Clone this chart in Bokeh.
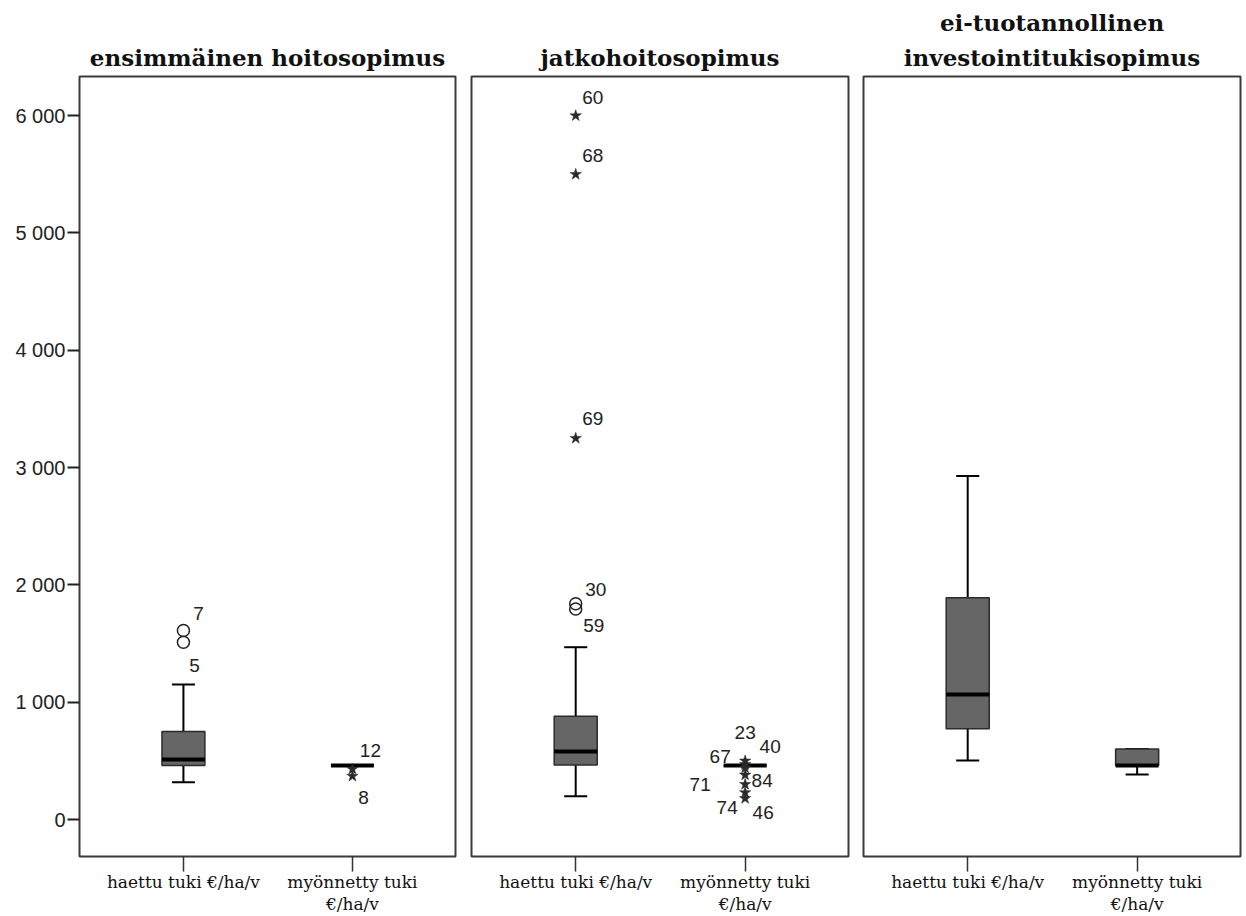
from bokeh.plotting import figure
from bokeh.layouts import row
from bokeh.models import FixedTicker, Range1d, ColumnDataSource, Title
from bokeh.embed import file_html
from bokeh.resources import INLINE
from bokeh.core.properties import value

# ---------------- data ----------------
panel_titles = [["ensimmäinen hoitosopimus"], ["jatkohoitosopimus"],
                ["ei-tuotannollinen", "investointitukisopimus"]]
categories = ["haettu tuki €/ha/v", "myönnetty tuki\n€/ha/v"]
y_ticks = [0, 1000, 2000, 3000, 4000, 5000, 6000]
y_tick_labels = ["0", "1 000", "2 000", "3 000", "4 000", "5 000", "6 000"]

# box statistics per panel: [haettu, myönnetty]
whisker_low = [[317, 460], [199, 460], [503, 384]]
q1 = [[460, 460], [466, 460], [773, 460]]
median = [[511, 460], [580, 460], [1066, 460]]
q3 = [[750, 460], [881, 460], [1890, 601]]
whisker_high = [[1151, 460], [1469, 460], [2928, 601]]

# outliers per panel: category index, value, case id, kind
out_cat = [[0, 0, 1, 1],
           [0, 0, 0, 0, 0, 1, 1, 1, 1, 1, 1, 1],
           []]
out_val = [[1611, 1512, 430, 370],
           [6000, 5500, 3250, 1839, 1795, 500, 470, 440, 380, 300, 230, 180],
           []]
out_id = [["7", "5", "12", "8"],
          ["60", "68", "69", "30", "59", "23", "40", "67", "84", "71", "74", "46"],
          []]
out_kind = [["circle", "circle", "star", "star"],
            ["star", "star", "star", "circle", "circle",
             "star", "star", "star", "star", "star", "star", "star"],
            []]

# label placement (screen pixel offsets, style only)
lab_dx = [[15, 11, 18, 11],
          [17, 17, 17, 20, 18, 0, 25, -25, 17, -45, -18, 18],
          []]
lab_dy = [[-17, 23, -19, 21],
          [-18, -19, -20, -14, 17, -28, -18, -11, 6, 0, 15, 14],
          []]

# ---------------- layout ----------------
W = [463, 393, 390]
B_LEFT = [79, 8, 7]
B_RIGHT = [8, 8, 6]
H = 916
BOX_W = 0.254
CAP_W = 0.136

figs = []
for i in range(3):
    p = figure(width=W[i], height=H, output_backend="svg", toolbar_location=None,
               x_range=Range1d(0.385, 2.61), y_range=Range1d(-315, 6334),
               min_border_left=B_LEFT[i], min_border_right=B_RIGHT[i],
               min_border_top=76, min_border_bottom=60)
    p.title.visible = False
    lines = panel_titles[i]
    for k, line in enumerate(reversed(lines)):
        t = Title(text=line, align="center", text_font="DejaVu Serif",
                  text_font_style="bold", text_font_size="23px",
                  text_color="#111111",
                  standoff=(12 if k == 0 else 0))
        p.add_layout(t, "above")
    p.grid.visible = False
    p.outline_line_color = "#3a3a3a"
    p.outline_line_width = 2
    p.background_fill_color = "white"
    p.border_fill_color = "white"

    # x axis
    p.xaxis.ticker = FixedTicker(ticks=[1, 2])
    p.xaxis.major_label_overrides = {1: categories[0], 2: categories[1]}
    p.xaxis.axis_line_color = None
    p.xaxis.major_tick_out = 15
    p.xaxis.major_tick_in = 0
    p.xaxis.major_tick_line_color = "#333333"
    p.xaxis.major_tick_line_width = 1.5
    p.xaxis.minor_tick_line_color = None
    p.xaxis.major_label_text_font = "DejaVu Serif"
    p.xaxis.major_label_text_font_size = "17px"
    p.xaxis.major_label_text_line_height = 1.1
    p.xaxis.major_label_text_color = "#111111"
    p.xaxis.major_label_standoff = 0

    # y axis
    if i == 0:
        p.yaxis.ticker = FixedTicker(ticks=y_ticks)
        p.yaxis.major_label_overrides = {t: l for t, l in zip(y_ticks, y_tick_labels)}
        p.yaxis.axis_line_color = None
        p.yaxis.major_tick_out = 12
        p.yaxis.major_tick_in = 0
        p.yaxis.major_tick_line_color = "#222222"
        p.yaxis.major_tick_line_width = 2
        p.yaxis.minor_tick_line_color = None
        p.yaxis.major_label_text_font = "Liberation Sans"
        p.yaxis.major_label_text_font_size = "20px"
        p.yaxis.major_label_text_color = "#222222"
        p.yaxis.major_label_standoff = 2
    else:
        p.yaxis.visible = False

    xs = [1, 2]
    src = ColumnDataSource(dict(
        x=xs, lo=whisker_low[i], q1=q1[i], med=median[i], q3=q3[i], hi=whisker_high[i],
        xl=[x - BOX_W / 2 for x in xs], xr=[x + BOX_W / 2 for x in xs],
        cl=[x - CAP_W / 2 for x in xs], cr=[x + CAP_W / 2 for x in xs]))

    # whiskers
    p.segment(x0="x", y0="q3", x1="x", y1="hi", source=src, line_color="black", line_width=2)
    p.segment(x0="x", y0="q1", x1="x", y1="lo", source=src, line_color="black", line_width=2)
    p.segment(x0="cl", y0="hi", x1="cr", y1="hi", source=src, line_color="black", line_width=2)
    p.segment(x0="cl", y0="lo", x1="cr", y1="lo", source=src, line_color="black", line_width=2)
    # boxes
    p.vbar(x="x", width=BOX_W, bottom="q1", top="q3", source=src,
           fill_color="#666666", line_color="#2b2b2b", line_width=1.5)
    # medians
    p.segment(x0="xl", y0="med", x1="xr", y1="med", source=src, line_color="black", line_width=4)

    # outliers
    if out_val[i]:
        osrc = ColumnDataSource(dict(
            x=[xs[c] for c in out_cat[i]], y=out_val[i], label=out_id[i],
            dx=lab_dx[i], dy=lab_dy[i]))
        cidx = [k for k, kd in enumerate(out_kind[i]) if kd == "circle"]
        sidx = [k for k, kd in enumerate(out_kind[i]) if kd == "star"]
        if cidx:
            csrc = ColumnDataSource(dict(x=[xs[out_cat[i][k]] for k in cidx],
                                         y=[out_val[i][k] for k in cidx]))
            p.scatter(x="x", y="y", source=csrc, marker="circle", size=12,
                      fill_color=None, line_color="#222222", line_width=1.5)
        if sidx:
            ssrc = ColumnDataSource(dict(x=[xs[out_cat[i][k]] for k in sidx],
                                         y=[out_val[i][k] for k in sidx]))
            p.scatter(x="x", y="y", source=ssrc, marker="star", size=12,
                      fill_color="#2a2a2a", line_color="#2a2a2a", line_width=0.5)
        p.text(x="x", y="y", text="label", x_offset="dx", y_offset="dy", source=osrc,
               text_font=value("Liberation Sans"), text_font_size="19px",
               text_align="center", text_baseline="middle", text_color="#222222")
    figs.append(p)

layout = row(*figs, spacing=0)
open("out.html", "w").write(file_html(layout, INLINE))
